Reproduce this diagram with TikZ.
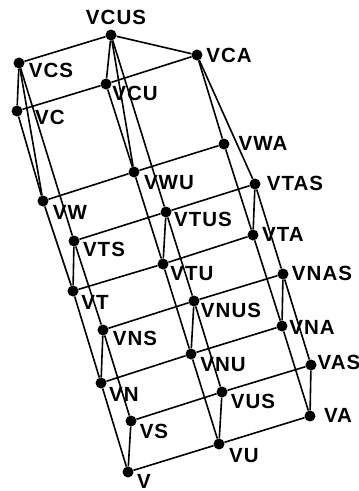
\documentclass[tikz,border=0pt]{standalone}
\usepackage{fontspec}
\setmainfont{Liberation Sans}[LetterSpace=5]
\tikzset{
  vdot/.style={circle,fill=black,draw=none,minimum size=11pt,inner sep=0pt},
  vlab/.style={inner sep=0pt,font=\bfseries\fontsize{20.5}{22}\selectfont,text height=14pt,text depth=0pt},
  edge/.style={draw=black,line width=1.6pt}
}
\begin{document}
\begin{tikzpicture}[x=1pt,y=-1pt]
\useasboundingbox (0,0) rectangle (359,491);
\fill[white] (0,0) rectangle (359,491);
% dots
\foreach \n/\x/\y in {VCUS/111/35,VCS/19/63,VC/17/111,VCU/106/84,VCA/197/55,
  VWA/224/144,VWU/134/172,VW/43/201,
  VTAS/255/184,VTUS/166/212,VTS/74/241,
  VTA/253/235,VTU/163/264,VT/73/291,
  VNAS/283/274,VNUS/194/301,VNS/103/330,
  VNA/282/326,VNU/191/354,VN/101/383,
  VAS/311/365,VUS/222/392,VS/131/421,
  VA/310/416,VU/219/444,V/128/472}
  \node[vdot] (\n) at (\x,\y) {};
% labels
\foreach \n/\x/\y in {VCUS/116/17,VCS/51/70,VC/50/117,VCU/135/93,VCA/229/55,
  VWA/263/143,VWU/169/182,VW/70/212,
  VTAS/295/183,VTUS/203/219,VTS/104/249,
  VTA/283/234,VTU/192/273,VT/95/302,
  VNAS/322/273,VNUS/231/310,VNS/135/338,
  VNA/312/327,VNU/223/364,VN/124/394,
  VAS/339/362,VUS/253/401,VS/154/431,
  VA/338/415,VU/244/455,V/144/481}
  \node[vlab] (l\n) at (\x,\y) {\n};
% cross edges
\foreach \a/\b in {VCS/VCUS,VCUS/VCA,VC/VCU,VCU/VCA,VW/VWU,VWU/VWA,
  VTS/VTUS,VTUS/VTAS,VT/VTU,VTU/VTA,VNS/VNUS,VNUS/VNAS,VN/VNU,VNU/VNA,
  VS/VUS,VUS/VAS,V/VU,VU/VA,
  % short verticals
  VCS/VC,VCUS/VCU,VTS/VT,VTUS/VTU,VTAS/VTA,VNS/VN,VNUS/VNU,VNAS/VNA,VS/V,VUS/VU,VAS/VA,
  % long edges
  VCS/VW,VCS/VTS,VC/VW,VCUS/VWU,VCUS/VTUS,VCU/VWU,VCA/VWA,VCA/VTAS,
  VW/VT,VWU/VTU,VWA/VTA,VTS/VNS,VTUS/VNUS,VTAS/VNAS,VT/VN,VTU/VNU,VTA/VNA,
  VNS/VS,VNUS/VUS,VNAS/VAS,VN/V,VNU/VU,VNA/VA}
  \draw[edge] (\a) -- (\b);
\end{tikzpicture}
\end{document}
